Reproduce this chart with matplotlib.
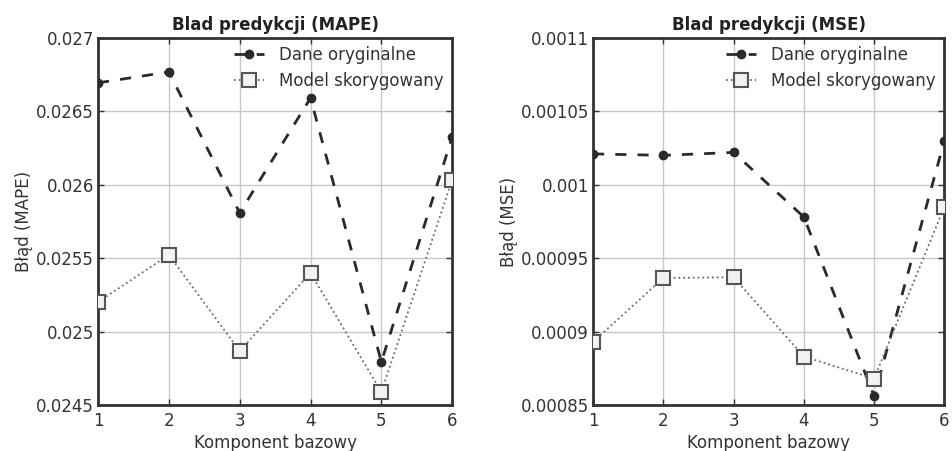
import matplotlib
matplotlib.use("Agg")
import matplotlib.pyplot as plt

komponenty = [1, 2, 3, 4, 5, 6]

mape_oryg = [0.026694, 0.026768, 0.025808, 0.026591, 0.024793, 0.026326]
mape_model = [0.025202, 0.025522, 0.024868, 0.025399, 0.024589, 0.026033]

mse_oryg = [0.001021, 0.001020, 0.001022, 0.000978, 0.000856, 0.001030]
mse_model = [0.000893, 0.0009365, 0.000937, 0.000883, 0.000868, 0.000985]

mape_ticks = [0.0245, 0.025, 0.0255, 0.026, 0.0265, 0.027]
mape_labels = ['0.0245', '0.025', '0.0255', '0.026', '0.0265', '0.027']
mse_ticks = [0.00085, 0.0009, 0.00095, 0.001, 0.00105, 0.0011]
mse_labels = ['0.00085', '0.0009', '0.00095', '0.001', '0.00105', '0.0011']

plt.rcParams['font.family'] = 'DejaVu Sans'
fs = 12

fig = plt.figure(figsize=(9.52, 4.51), dpi=100)
ax1 = fig.add_axes([0.103, 0.102, 0.372, 0.814])
ax2 = fig.add_axes([0.623, 0.102, 0.369, 0.814])


def rysuj(ax, oryg, model, ticks, labels, tytul, ylabel):
    ax.plot(komponenty, oryg, color='#2a2a2a', linestyle='--', dashes=(4, 4),
            linewidth=2, marker='o', markersize=6, markerfacecolor='#2a2a2a',
            markeredgecolor='#2a2a2a', label='Dane oryginalne', zorder=3)
    ax.plot(komponenty, model, color='#6a6a6a', linestyle=':', linewidth=1.3,
            marker='s', markersize=10, markerfacecolor='#f2f2f2',
            markeredgecolor='#555555', markeredgewidth=1.5,
            label='Model skorygowany', zorder=3)
    ax.set_xlim(1, 6)
    ax.set_ylim(ticks[0], ticks[-1])
    ax.set_xticks(komponenty)
    ax.set_yticks(ticks)
    ax.set_yticklabels(labels)
    ax.tick_params(direction='in', top=True, right=True, length=4, width=1,
                   labelsize=fs, pad=3, colors='#333333')
    ax.tick_params(axis='x', pad=5)
    ax.grid(True, color='#c8c8c8', linewidth=1)
    ax.set_axisbelow(True)
    for s in ax.spines.values():
        s.set_linewidth(2)
        s.set_color('#333333')
    ax.set_title(tytul, fontsize=fs, fontweight='bold', pad=6, color='#222222')
    ax.set_xlabel('Komponent bazowy', fontsize=fs, labelpad=3, color='#333333')
    ax.set_ylabel(ylabel, fontsize=fs, labelpad=2, color='#333333')
    leg = ax.legend(loc='upper right', frameon=False, numpoints=1,
                    handlelength=1.8, handletextpad=0.9, fontsize=fs,
                    borderaxespad=0.1, labelspacing=0.45)
    for t in leg.get_texts():
        t.set_color('#333333')


rysuj(ax1, mape_oryg, mape_model, mape_ticks, mape_labels,
      'Blad predykcji (MAPE)', 'Błąd (MAPE)')
rysuj(ax2, mse_oryg, mse_model, mse_ticks, mse_labels,
      'Blad predykcji (MSE)', 'Błąd (MSE)')

fig.savefig('out.png', dpi=100)
